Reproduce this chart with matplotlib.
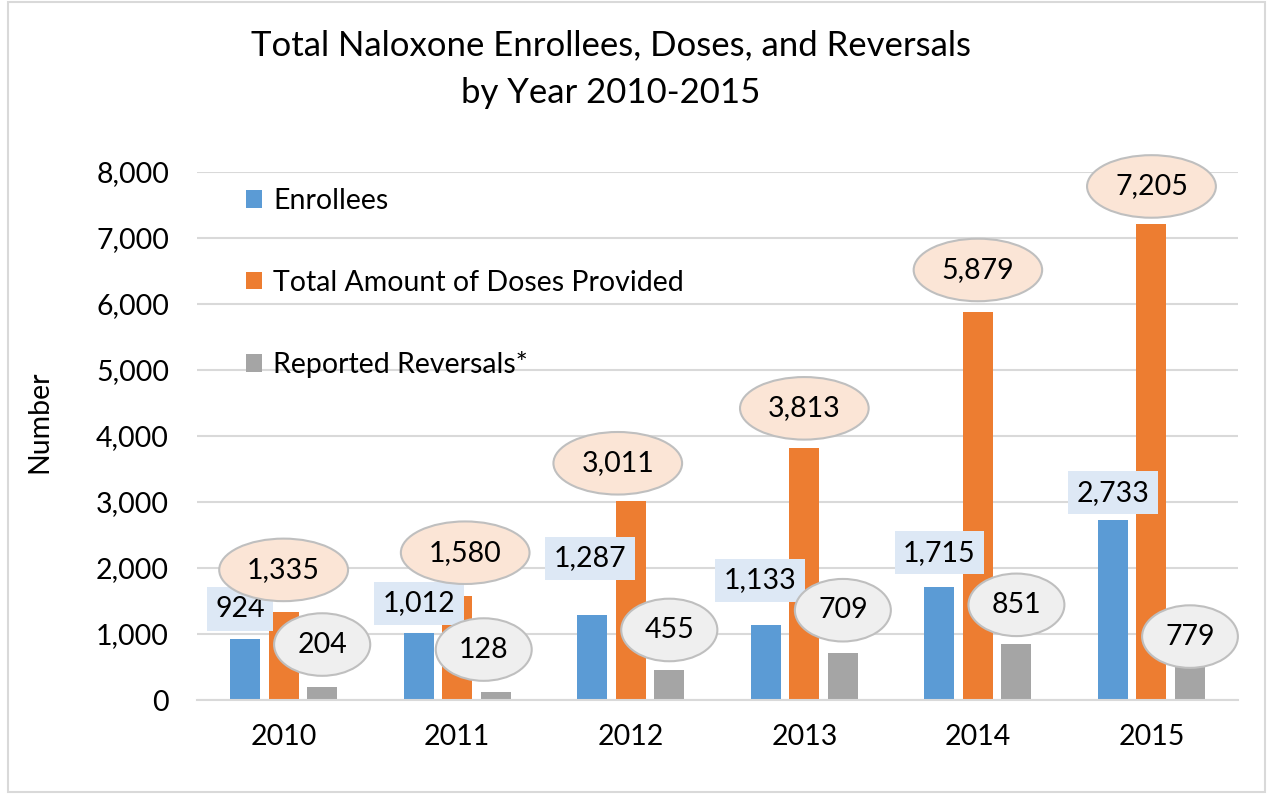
import numpy as np
import matplotlib.pyplot as plt
from matplotlib.patches import Rectangle

years = ['2010', '2011', '2012', '2013', '2014', '2015']
enrollees = [924, 1012, 1287, 1133, 1715, 2733]
doses = [1335, 1580, 3011, 3813, 5879, 7205]
reversals = [204, 128, 455, 709, 851, 779]

# label offsets in pixels from each bar top
off_enr = [(-5, 30), (0, 30), (-2, 57), (-6, 45), (0, 34), (0, 27)]
off_dos = [(0, 42), (8, 43), (-13, 38), (0, 40), (0, 42), (0, 38)]
off_rev = [(0, 42), (-12, 42), (0, 40), (0, 43), (0, 39), (0, 12)]

plt.rcParams['font.family'] = ['Lato', 'DejaVu Sans']

blue = '#5b9bd5'
orange = '#ed7d31'
gray = '#a5a5a5'
fs = 20.5

fig = plt.figure(figsize=(12.7, 7.98), dpi=100)
ax = fig.add_axes([0.155, 0.1228, 0.82, 0.6617])

x = np.arange(len(years))
w = 0.173
d = 0.222
b1 = ax.bar(x - d, enrollees, w, color=blue, label='Enrollees', zorder=2)
b2 = ax.bar(x, doses, w, color=orange, label='Total Amount of Doses Provided', zorder=2)
b3 = ax.bar(x + d, reversals, w, color=gray, label='Reported Reversals*', zorder=2)

def put_labels(bars, vals, offs, style, fc, ec):
    for b, v, o in zip(bars, vals, offs):
        ax.annotate(f'{v:,}', (b.get_x() + b.get_width() / 2, v),
                    xytext=o, textcoords='offset pixels',
                    ha='center', va='center', fontsize=fs, zorder=5,
                    bbox=dict(boxstyle=style, fc=fc, ec=ec, lw=1.5))

put_labels(b1, enrollees, off_enr, 'square,pad=0.3', '#dde8f5', 'none')
put_labels(b2, doses, off_dos, 'ellipse,pad=0.32', '#fbe5d6', '#bfbfbf')
put_labels(b3, reversals, off_rev, 'ellipse,pad=0.32', '#efefef', '#bfbfbf')

ax.set_xlim(-0.5, 5.5)
ax.set_ylim(0, 8000)
ax.set_yticks(np.arange(0, 8001, 1000))
ax.set_yticklabels([f'{v:,}' for v in range(0, 8001, 1000)])
ax.set_xticks(x)
ax.set_xticklabels(years)
ax.tick_params(axis='both', length=0, labelsize=fs)
ax.tick_params(axis='y', pad=20)
ax.tick_params(axis='x', pad=17)
ax.grid(axis='y', color='#d9d9d9', lw=1.5, zorder=0)
for s in ['top', 'right', 'left']:
    ax.spines[s].set_visible(False)
ax.spines['bottom'].set_color('#d9d9d9')
ax.spines['bottom'].set_linewidth(1.5)

ax.set_ylabel('Number', fontsize=fs)
ax.yaxis.set_label_coords(-0.139, 0.527)

ax.legend(loc='upper left', bbox_to_anchor=(0.023, 1.018), frameon=False, fontsize=fs,
          handlelength=0.55, handleheight=0.55, handletextpad=0.4, labelspacing=1.95)

fig.text(0.481, 0.943, 'Total Naloxone Enrollees, Doses, and Reversals',
         ha='center', va='center', fontsize=25)
fig.text(0.481, 0.883, 'by Year 2010-2015', ha='center', va='center', fontsize=25)

fig.patches.append(Rectangle((0.006, 0.008), 0.99, 0.99, transform=fig.transFigure,
                             fill=False, ec='#d9d9d9', lw=1.5))

fig.savefig('out.png', dpi=100)
